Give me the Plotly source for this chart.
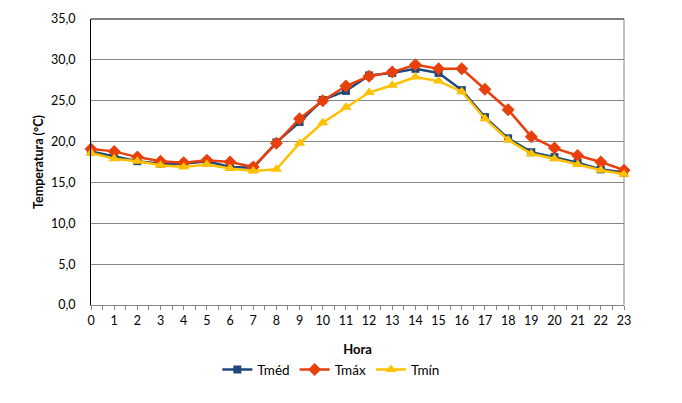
import plotly.graph_objects as go

horas = list(range(24))
tmed = [18.8, 18.2, 17.6, 17.3, 17.3, 17.6, 16.9, 16.8, 19.9, 22.4, 25.1, 26.2,
        28.1, 28.4, 28.9, 28.4, 26.3, 23.0, 20.4, 18.7, 18.1, 17.4, 16.6, 16.2]
tmax = [19.1, 18.8, 18.1, 17.6, 17.4, 17.7, 17.5, 16.9, 19.8, 22.8, 25.0, 26.8,
        28.0, 28.5, 29.4, 28.9, 28.9, 26.4, 23.9, 20.6, 19.2, 18.3, 17.5, 16.5]
tmin = [18.6, 17.9, 17.6, 17.1, 16.9, 17.2, 16.7, 16.4, 16.6, 19.8, 22.3, 24.2,
        26.0, 26.9, 27.9, 27.4, 26.1, 22.8, 20.2, 18.5, 17.9, 17.2, 16.5, 16.0]
ytick_vals = [0, 5, 10, 15, 20, 25, 30, 35]

FONT = "Lato"
fig = go.Figure()
fig.add_trace(go.Scatter(x=horas, y=tmed, name="Tméd", mode="lines+markers",
                         line=dict(color="#1F497D", width=2.5),
                         marker=dict(symbol="square", size=8, color="#1F497D"),
                         cliponaxis=False))
fig.add_trace(go.Scatter(x=horas, y=tmax, name="Tmáx", mode="lines+markers",
                         line=dict(color="#E8400C", width=2.5),
                         marker=dict(symbol="diamond", size=10, color="#E8400C"),
                         cliponaxis=False))
fig.add_trace(go.Scatter(x=horas, y=tmin, name="Tmín", mode="lines+markers",
                         line=dict(color="#FFC000", width=2.5),
                         marker=dict(symbol="triangle-up", size=10, color="#FFC000"),
                         cliponaxis=False))

fig.update_layout(
    width=682, height=403,
    margin=dict(l=83, r=66, t=11, b=106, autoexpand=False),
    paper_bgcolor="white", plot_bgcolor="white",
    separators=",.",
    font=dict(family=FONT, size=12, color="black"),
    showlegend=True,
    legend=dict(orientation="h", x=0.45, xanchor="center", y=-0.226, yanchor="middle",
                font=dict(size=13.5), tracegroupgap=0),
    xaxis=dict(range=[0, 23], tickmode="array", tickvals=horas,
               ticktext=[str(h) for h in horas],
               showgrid=False, zeroline=False, automargin=False,
               showline=True, linecolor="#868686", linewidth=1,
               ticks="outside", ticklen=4, tickcolor="#868686",
               minor=dict(dtick=0.5, ticks="outside", ticklen=4, tickcolor="#868686", showgrid=False),
               tickfont=dict(size=12.5),
               title=dict(text="<b>Hora</b>", font=dict(size=13), standoff=17)),
    yaxis=dict(range=[0, 35], tickvals=ytick_vals, tickformat=".1f",
               showgrid=True, gridcolor="#868686", gridwidth=1, zeroline=False,
               showline=True, linecolor="black", linewidth=1, automargin=False,
               ticks="", ticklabelstandoff=12, tickfont=dict(size=12.5),
               title=dict(text="<b>Temperatura (°C)</b>", font=dict(size=12.5), standoff=4)),
    shapes=[
        dict(type="line", xref="paper", yref="paper", x0=0, x1=1, y0=1, y1=1,
             line=dict(color="black", width=1), layer="above"),
        dict(type="line", xref="paper", yref="paper", x0=1, x1=1, y0=0, y1=1,
             line=dict(color="#868686", width=1), layer="below"),
    ],
)

fig.write_html("out.html")
